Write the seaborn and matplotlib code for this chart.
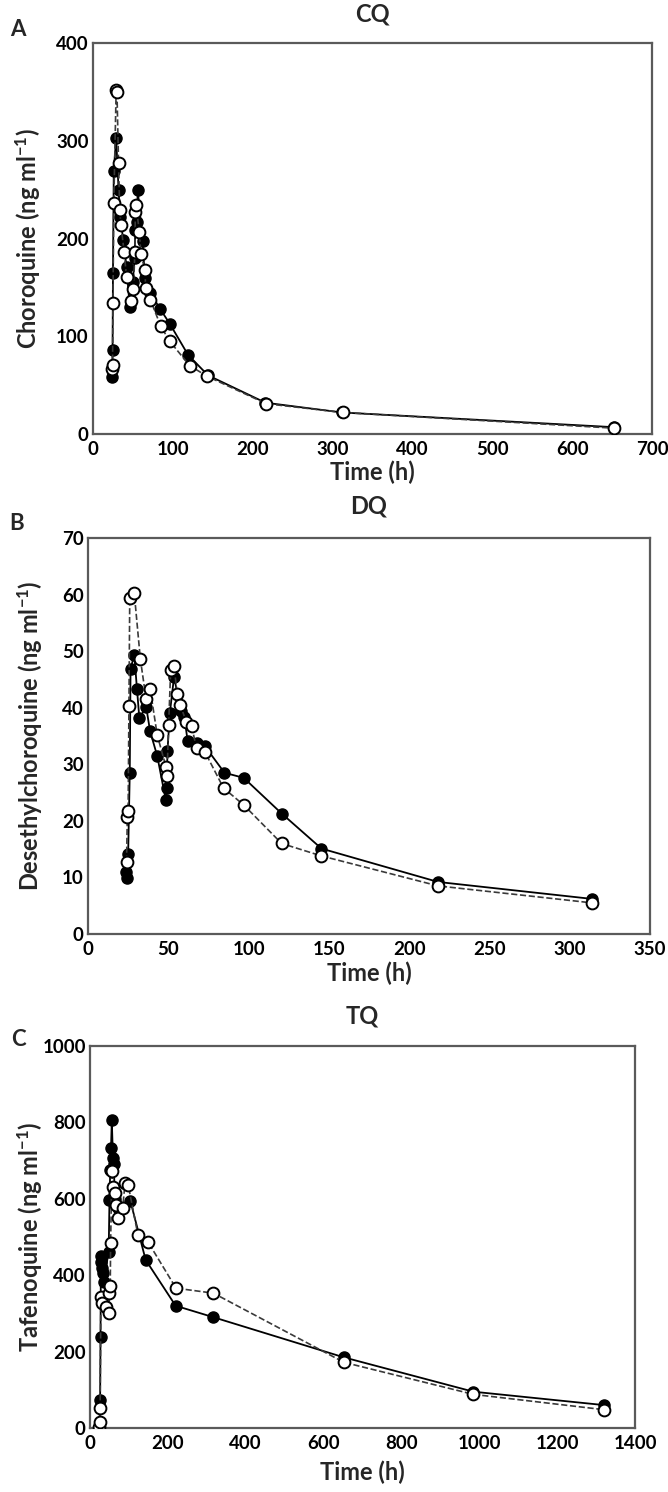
import matplotlib
matplotlib.use("Agg")
import matplotlib.pyplot as plt
import seaborn as sns
import pandas as pd

# ---------------- data ----------------
# Panel A: chloroquine (CQ)
cq_filled_t = [24, 24.5, 25, 26, 29, 32, 34, 38, 42, 46, 50, 52, 53, 55, 56, 62, 65, 72, 84, 96, 119, 144, 216, 312, 652]
cq_filled_c = [58, 86, 165, 269, 303, 250, 222, 198, 171, 130, 156, 180, 209, 217, 250, 197, 160, 144, 128, 113, 81, 60, 32, 22, 7]
cq_open_t = [24, 24.5, 25, 26, 29, 30, 32, 33.5, 35, 39, 42, 48, 50.5, 52.5, 53, 54, 58, 60, 65, 66, 72, 85, 96, 121, 143, 217, 313, 652]
cq_open_c = [66, 71, 134, 236, 352, 350, 277, 229, 214, 186, 161, 136, 148, 186, 227, 234, 207, 184, 168, 149, 137, 110, 95, 70, 59, 31, 22, 6]

# Panel B: desethylchloroquine (DQ)
dq_filled_t = [23.6, 24.3, 25, 26, 26.5, 28.8, 30.5, 32, 36.2, 38.7, 43.1, 48.5, 49, 49.5, 51, 53.6, 57.7, 60, 62, 67.6, 72.8, 85, 97, 120.6, 145.4, 218, 314]
dq_filled_c = [11.0, 9.9, 14.1, 28.4, 46.8, 49.4, 43.3, 38.1, 40.2, 35.8, 31.5, 23.6, 25.8, 32.4, 39.1, 45.5, 39.4, 38.4, 34.2, 33.8, 33.2, 28.5, 27.6, 21.3, 15.1, 9.2, 6.2]
dq_open_t = [24, 24.5, 25, 25.5, 26, 28.8, 32.6, 36.2, 38.7, 43.1, 48.5, 49.2, 50.2, 51.5, 53.6, 55.5, 57.5, 61.3, 64.5, 67.6, 72.8, 84.4, 97, 120.6, 145.4, 218, 314]
dq_open_c = [12.8, 20.7, 21.7, 40.3, 59.4, 60.3, 48.6, 41.5, 43.3, 35.2, 29.6, 27.9, 36.9, 46.7, 47.4, 42.5, 40.5, 37.4, 36.8, 32.8, 32.2, 25.8, 22.8, 16.0, 13.8, 8.5, 5.5]

# Panel C: tafenoquine (TQ)
tq_filled_t = [24, 26, 27, 28, 29, 31, 33, 35, 48, 50, 52, 54, 56, 59, 61, 64, 72, 104, 143, 220, 317, 652, 985, 1320]
tq_filled_c = [0, 73, 238, 449, 435, 420, 405, 383, 462, 596, 676, 733, 805, 707, 690, 600, 575, 593, 440, 320, 290, 185, 95, 60]
tq_open_t = [24, 25, 26, 28, 32, 40, 48, 50, 52, 53, 56, 60, 64, 68, 72, 84, 90, 98, 123, 149, 221, 317, 652, 985, 1320]
tq_open_c = [3, 15, 53, 344, 327, 318, 302, 354, 372, 484, 672, 632, 615, 585, 550, 576, 641, 637, 506, 487, 366, 353, 172, 88, 48]

titles = ["CQ", "DQ", "TQ"]
letters = ["A", "B", "C"]
ylabels = ["Choroquine (ng ml$^{-1}$)", "Desethylchoroquine (ng ml$^{-1}$)", "Tafenoquine (ng ml$^{-1}$)"]
xlims = [(0, 700), (0, 350), (0, 1400)]
ylims = [(0, 400), (0, 70), (0, 1000)]
xticks = [list(range(0, 701, 100)), list(range(0, 351, 50)), list(range(0, 1401, 200))]
yticks = [list(range(0, 401, 100)), list(range(0, 71, 10)), list(range(0, 1001, 200))]

# ---------------- style ----------------
sns.set_theme(style="white")
plt.rcParams['font.family'] = ['Lato', 'DejaVu Sans']
plt.rcParams['font.weight'] = 'bold'
plt.rcParams['axes.labelweight'] = 'bold'
plt.rcParams['mathtext.fontset'] = 'custom'
plt.rcParams['mathtext.rm'] = 'Lato:bold'
plt.rcParams['mathtext.default'] = 'rm'

W, H = 668, 1492
fig = plt.figure(figsize=(W / 100, H / 100), dpi=100)

# axes boxes in pixels: left, right, top, bottom
boxes = [(93, 652, 43, 434), (88, 650, 538, 934), (90, 635, 1046, 1428)]
title_y = [14, 506, 1016]
letter_pos = [(18, 30), (17, 524), (18, 1040)]
ylabel_cx = [28, 30, 30]
xlabel_top = [461, 962, 1461]

datasets = [
    (cq_filled_t, cq_filled_c, cq_open_t, cq_open_c),
    (dq_filled_t, dq_filled_c, dq_open_t, dq_open_c),
    (tq_filled_t, tq_filled_c, tq_open_t, tq_open_c),
]

for i, (ft, fc, ot, oc) in enumerate(datasets):
    l, r, t, b = boxes[i]
    ax = fig.add_axes([l / W, 1 - b / H, (r - l) / W, (b - t) / H])
    dff = pd.DataFrame({"t": ft, "c": fc})
    dfo = pd.DataFrame({"t": ot, "c": oc})
    sns.lineplot(data=dff, x="t", y="c", ax=ax, estimator=None, sort=False,
                 color="black", lw=1.3, marker="o", markersize=8,
                 markerfacecolor="black", markeredgecolor="black", markeredgewidth=1.0,
                 zorder=2)
    sns.lineplot(data=dfo, x="t", y="c", ax=ax, estimator=None, sort=False,
                 color="#3a3a3a", lw=1.2, marker="o", markersize=8.5,
                 markerfacecolor="white", markeredgecolor="black", markeredgewidth=1.4,
                 dashes=(7, 2.5), linestyle="--", zorder=3)
    ax.set_xlim(*xlims[i])
    ax.set_ylim(*ylims[i])
    ax.set_xticks(xticks[i])
    ax.set_yticks(yticks[i])
    ax.tick_params(direction="in", length=5, width=0.8, color="#888888",
                   labelsize=13.5, labelcolor="black")
    ax.tick_params(axis="x", pad=5)
    ax.tick_params(axis="y", pad=3)
    for lab in ax.get_xticklabels() + ax.get_yticklabels():
        lab.set_fontweight("bold")
    for sp in ax.spines.values():
        sp.set_color("#5a5a5a")
        sp.set_linewidth(1.6)
        sp.set_visible(True)
    ax.set_xlabel("Time (h)", fontsize=17, fontweight="bold")
    ax.set_ylabel(ylabels[i], fontsize=17, fontweight="bold")
    ax.xaxis.set_label_coords(0.5, (b - xlabel_top[i]) / (b - t))
    ax.xaxis.label.set_va("top")
    ax.yaxis.set_label_coords((ylabel_cx[i] - l) / (r - l), 0.5)
    ax.yaxis.label.set_va("center")
    ax.grid(False)
    fig.text(((l + r) / 2) / W, 1 - title_y[i] / H, titles[i], ha="center", va="center",
             fontsize=17, fontweight="bold")
    lx, ly = letter_pos[i]
    fig.text(lx / W, 1 - ly / H, letters[i], ha="center", va="center",
             fontsize=16, fontweight="bold")

fig.savefig("out.png", dpi=100)
